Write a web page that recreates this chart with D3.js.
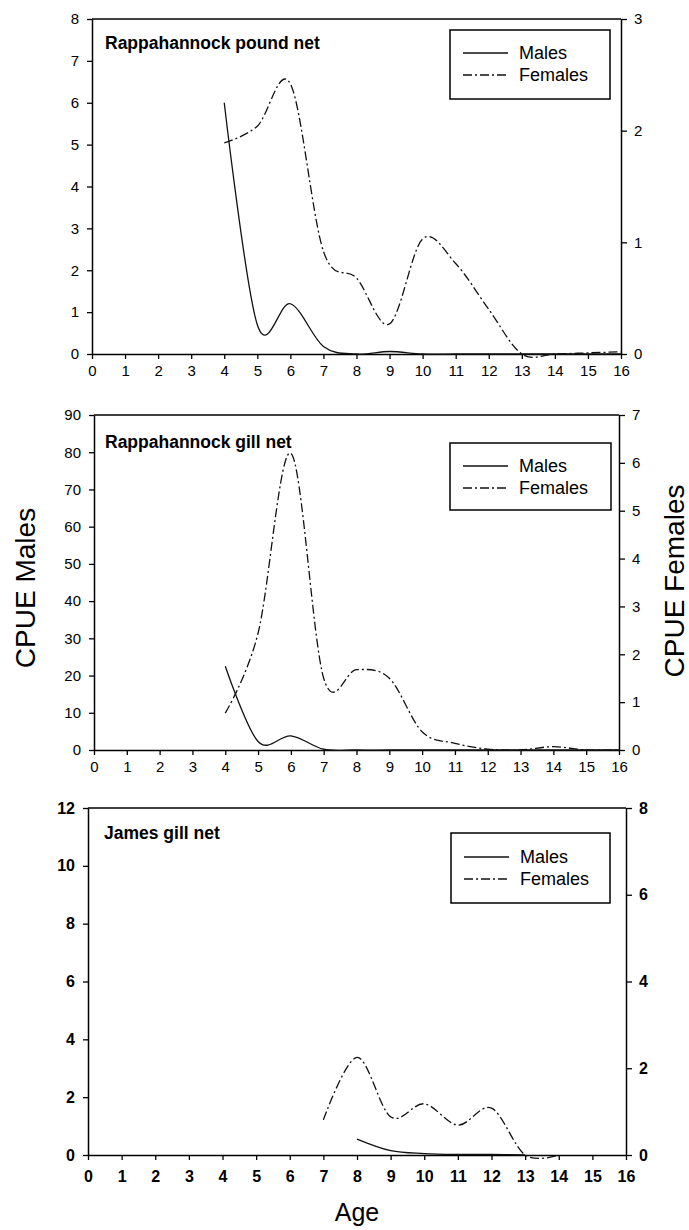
<!DOCTYPE html>
<html><head><meta charset="utf-8">
<script src="https://cdn.jsdelivr.net/npm/d3@7"></script>
<style>
body{margin:0;background:#fff}
svg{display:block;background:#fff}
text{font-family:"Liberation Sans",Arial,Helvetica,sans-serif;fill:#000}
</style>
</head><body>
<svg id="chart" width="689" height="1230"></svg>
<script>
// ---------- DATA ----------
const ageTicks = [0,1,2,3,4,5,6,7,8,9,10,11,12,13,14,15,16];
const seriesNames = ["Males","Females"];

// Panel 1: Rappahannock pound net
const p1Title = "Rappahannock pound net";
const p1Ages = [4,5,6,7,8,9,10,11,12,13,14,15,16];
const p1Males = [6.0,0.7,1.2,0.18,0,0.06,0,0,0,0,0,0,0];
const p1Females = [1.89,2.04,2.42,0.92,0.68,0.27,1.03,0.81,0.40,0,0,0.01,0.02];
const p1LeftTicks = [0,1,2,3,4,5,6,7,8];
const p1RightTicks = [0,1,2,3];

// Panel 2: Rappahannock gill net
const p2Title = "Rappahannock gill net";
const p2Ages = [4,5,6,7,8,9,10,11,12,13,14,15,16];
const p2Males = [22.5,2.3,3.8,0.2,0,0,0,0,0,0,0,0,0];
const p2Females = [0.77,2.44,6.2,1.5,1.68,1.5,0.38,0.14,0.02,0,0.07,0,0];
const p2LeftTicks = [0,10,20,30,40,50,60,70,80,90];
const p2RightTicks = [0,1,2,3,4,5,6,7];

// Panel 3: James gill net
const p3Title = "James gill net";
const p3MaleAges = [8,9,10,11,12,13];
const p3Males = [0.55,0.15,0.05,0.02,0.02,0];
const p3FemaleAges = [7,8,9,10,11,12,13,14];
const p3Females = [0.81,2.25,0.88,1.18,0.69,1.08,0,0];
const p3LeftTicks = [0,2,4,6,8,10,12];
const p3RightTicks = [0,2,4,6,8];

const yLabelLeft = "CPUE Males";
const yLabelRight = "CPUE Females";
const xLabel = "Age";

// ---------- LAYOUT ----------
const panels = [
  {title:p1Title, maleAges:p1Ages, males:p1Males, femaleAges:p1Ages, females:p1Females,
   leftTicks:p1LeftTicks, rightTicks:p1RightTicks,
   x0:92, x1:621, top:19, bottom:354, tickFont:15, tickWeight:"normal",
   titleX:105, titleY:49, leg:{x:450,y:30,w:160,h:69,my:53,fy:75}},
  {title:p2Title, maleAges:p2Ages, males:p2Males, femaleAges:p2Ages, females:p2Females,
   leftTicks:p2LeftTicks, rightTicks:p2RightTicks,
   x0:94, x1:619, top:415, bottom:750, tickFont:15, tickWeight:"normal",
   titleX:105, titleY:448, leg:{x:450,y:443,w:161,h:67,my:466,fy:488}},
  {title:p3Title, maleAges:p3MaleAges, males:p3Males, femaleAges:p3FemaleAges, females:p3Females,
   leftTicks:p3LeftTicks, rightTicks:p3RightTicks,
   x0:88, x1:626, top:808, bottom:1155, tickFont:16, tickWeight:"bold",
   titleX:104, titleY:839, leg:{x:451,y:833,w:159,h:70,my:857,fy:879}}
];

const svg = d3.select("#chart");
svg.append("rect").attr("width",689).attr("height",1230).attr("fill","#fff");

const femaleDash = "9,3,2,3";

panels.forEach(p => {
  const x = d3.scaleLinear().domain([0,16]).range([p.x0,p.x1]);
  const yL = d3.scaleLinear().domain([0,d3.max(p.leftTicks)]).range([p.bottom,p.top]);
  const yR = d3.scaleLinear().domain([0,d3.max(p.rightTicks)]).range([p.bottom,p.top]);
  const g = svg.append("g");

  // frame top line
  g.append("line").attr("x1",p.x0).attr("x2",p.x1).attr("y1",p.top).attr("y2",p.top)
    .attr("stroke","#000").attr("stroke-width",1.5);

  const styleAxis = (sel) => {
    sel.select(".domain").attr("stroke","#000").attr("stroke-width",1.5);
    sel.selectAll(".tick line").attr("stroke","#000").attr("stroke-width",1.3);
    sel.selectAll(".tick text").attr("font-size",p.tickFont).attr("font-weight",p.tickWeight)
      .attr("font-family",'"Liberation Sans",Arial,sans-serif').attr("fill","#000");
  };

  g.append("g").attr("transform",`translate(0,${p.bottom})`)
    .call(d3.axisBottom(x).tickValues(ageTicks).tickFormat(d3.format("d")).tickSize(5).tickSizeOuter(0).tickPadding(p.tickWeight==="bold"?11:6))
    .call(styleAxis);
  g.append("g").attr("transform",`translate(${p.x0},0)`)
    .call(d3.axisLeft(yL).tickValues(p.leftTicks).tickFormat(d3.format("d")).tickSize(5).tickSizeOuter(0).tickPadding(8))
    .call(styleAxis);
  g.append("g").attr("transform",`translate(${p.x1},0)`)
    .call(d3.axisRight(yR).tickValues(p.rightTicks).tickFormat(d3.format("d")).tickSize(6).tickSizeOuter(0).tickPadding(7))
    .call(styleAxis);

  // lines
  const lineM = d3.line().x((d,i)=>x(p.maleAges[i])).y(d=>yL(d)).curve(d3.curveCardinal.tension(0));
  const lineF = d3.line().x((d,i)=>x(p.femaleAges[i])).y(d=>yR(d)).curve(d3.curveCardinal.tension(0));
  g.append("path").datum(p.females).attr("d",lineF).attr("fill","none")
    .attr("stroke","#111").attr("stroke-width",1.3).attr("stroke-dasharray",femaleDash);
  g.append("path").datum(p.males).attr("d",lineM).attr("fill","none")
    .attr("stroke","#111").attr("stroke-width",1.3);

  // title
  g.append("text").attr("x",p.titleX).attr("y",p.titleY).attr("font-size",17.5)
    .attr("font-weight","bold").text(p.title);

  // legend
  const L = p.leg;
  g.append("rect").attr("x",L.x).attr("y",L.y).attr("width",L.w).attr("height",L.h)
    .attr("fill","#fff").attr("stroke","#000").attr("stroke-width",1.5);
  [[seriesNames[0],L.my,null],[seriesNames[1],L.fy,femaleDash]].forEach(([name,yy,dash])=>{
    g.append("line").attr("x1",L.x+13).attr("x2",L.x+58).attr("y1",yy).attr("y2",yy)
      .attr("stroke","#111").attr("stroke-width",1.3).attr("stroke-dasharray",dash);
    g.append("text").attr("x",L.x+69).attr("y",yy).attr("dy","0.36em")
      .attr("font-size",18).text(name);
  });
});

// axis titles
svg.append("text").attr("transform","translate(35,588) rotate(-90)")
  .attr("text-anchor","middle").attr("font-size",28).text(yLabelLeft);
svg.append("text").attr("transform","translate(684,581) rotate(-90)")
  .attr("text-anchor","middle").attr("font-size",28).text(yLabelRight);
svg.append("text").attr("x",357).attr("y",1221).attr("text-anchor","middle")
  .attr("font-size",25).text(xLabel);
</script>
</body></html>
